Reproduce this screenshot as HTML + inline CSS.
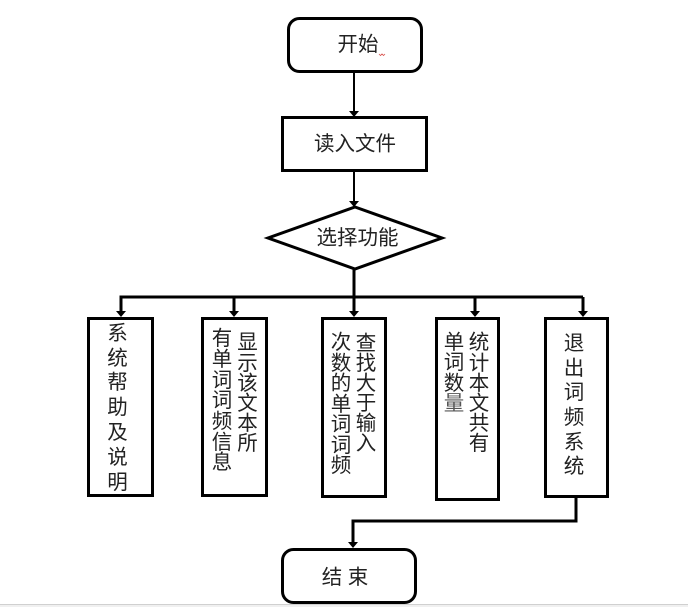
<!DOCTYPE html>
<html>
<head>
<meta charset="utf-8">
<style>
html,body{margin:0;padding:0;background:#fff;width:688px;height:607px;overflow:hidden}
svg{display:block}
text{font-family:"Liberation Sans","Noto Sans CJK SC","WenQuanYi Zen Hei",sans-serif;font-size:20.5px;fill:#222;text-anchor:middle}
.b{fill:#fff;stroke:#000;stroke-width:3}
.l{fill:none;stroke:#000;stroke-width:2}
.h{fill:none;stroke:#000;stroke-width:3}
</style>
</head>
<body>
<svg width="688" height="607" viewBox="0 0 688 607" xmlns="http://www.w3.org/2000/svg">
<rect x="0" y="604" width="688" height="3" fill="#f0f0f0"/>
<rect x="0" y="604" width="688" height="1" fill="#d0d0d0"/>

<!-- connectors -->
<path class="l" d="M354 72V112"/>
<path d="M349 111h10l-5 6z" fill="#000"/>
<path class="l" d="M354 171V203"/>
<path d="M349 201h10l-5 6z" fill="#000"/>
<path class="h" d="M354 269V297"/>
<path class="h" d="M121 312V297H583"/>
<path class="h" d="M234 297V312M354 297V312M475 297V312M583 297V312"/>
<path d="M116 311h10l-5 6zM229 311h10l-5 6zM349 311h10l-5 6zM470 311h10l-5 6zM578 311h10l-5 6z" fill="#000"/>
<path class="h" d="M576 497V521H353V544"/>
<path d="M348 542h10l-5 6z" fill="#000"/>

<!-- top nodes -->
<rect class="b" x="288.500" y="18.500" width="133" height="53" rx="11"/>
<text x="358" y="51">开始</text>
<path d="M379 54l1.500 1.500 1.500-1.500 1.500 1.500 1.500-1.500" fill="none" stroke="#d9534f" stroke-width="0.800"/>
<rect class="b" x="282.500" y="117.500" width="144" height="53"/>
<text x="355" y="150.500">读入文件</text>
<polygon class="b" points="355,207 442,238 355,269 268,238"/>
<text x="357.500" y="244.500">选择功能</text>

<!-- boxes -->
<rect class="b" x="88.500" y="318.500" width="64" height="177"/>
<rect class="b" x="202.500" y="318.500" width="64" height="177"/>
<rect class="b" x="322.500" y="318.500" width="63" height="178"/>
<rect class="b" x="436.500" y="318.500" width="62" height="181"/>
<rect class="b" x="545.500" y="318.500" width="62" height="178"/>

<!-- box 1 -->
<text x="117.500" y="340">系</text><text x="117.500" y="365">统</text><text x="117.500" y="389">帮</text><text x="117.500" y="414">助</text><text x="117.500" y="439">及</text><text x="117.500" y="464">说</text><text x="117.500" y="489">明</text>
<!-- box 2 -->
<text x="247.500" y="349">显</text><text x="247.500" y="370">示</text><text x="247.500" y="390">该</text><text x="247.500" y="410">文</text><text x="247.500" y="430">本</text><text x="247.500" y="450">所</text>
<text x="222" y="345">有</text><text x="222" y="366">单</text><text x="222" y="387">词</text><text x="222" y="407">词</text><text x="222" y="428">频</text><text x="222" y="449">信</text><text x="222" y="469">息</text>
<!-- box 3 -->
<text x="366" y="350">查</text><text x="366" y="370">找</text><text x="366" y="390">大</text><text x="366" y="410">于</text><text x="366" y="430">输</text><text x="366" y="450">入</text>
<text x="341" y="349">次</text><text x="341" y="370">数</text><text x="341" y="390">的</text><text x="341" y="411">单</text><text x="341" y="431">词</text><text x="341" y="452">词</text><text x="341" y="472">频</text>
<!-- box 4 -->
<text x="479" y="349">统</text><text x="479" y="370">计</text><text x="479" y="390">本</text><text x="479" y="410">文</text><text x="479" y="430">共</text><text x="479" y="450">有</text>
<text x="454" y="349">单</text><text x="454" y="369">词</text><text x="454" y="390">数</text><text x="454" y="410" style="fill:#555">量</text>
<!-- box 5 -->
<text x="574" y="350">退</text><text x="574" y="375">出</text><text x="574" y="399">词</text><text x="574" y="424">频</text><text x="574" y="449">系</text><text x="574" y="473">统</text>

<!-- end -->
<rect class="b" x="282.500" y="549.500" width="133" height="53" rx="11"/>
<text x="332" y="584">结</text><text x="358" y="584">束</text>
</svg>
</body>
</html>
